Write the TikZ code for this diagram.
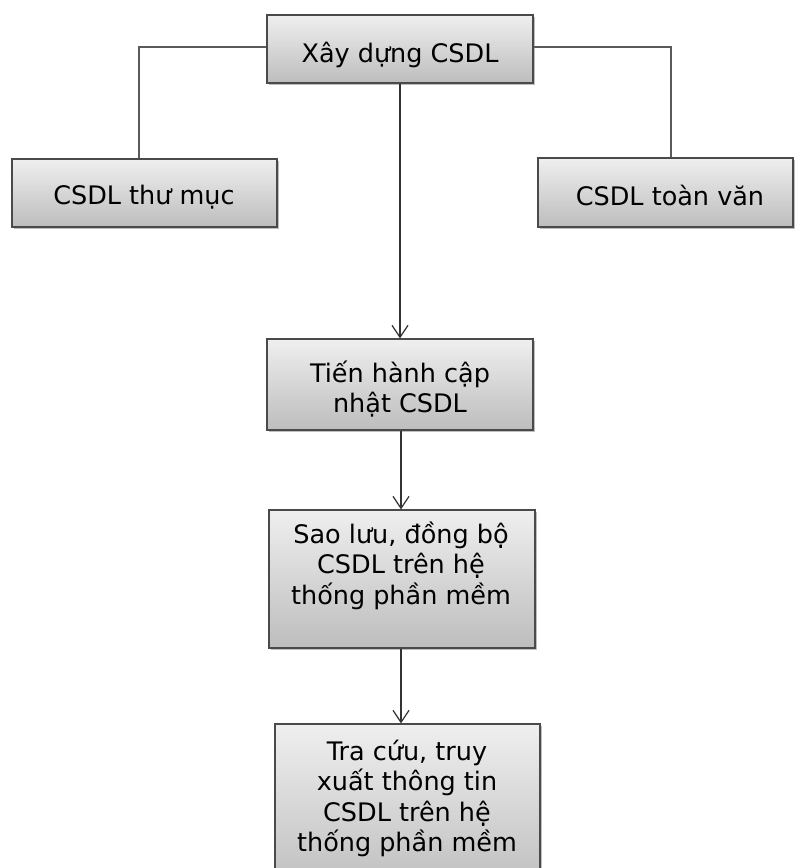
\documentclass[tikz,border=0pt]{standalone}
\usepackage{fontspec}
\setmainfont{DejaVu Sans}
\usetikzlibrary{arrows.meta,shadows}
\definecolor{bord}{HTML}{4A4A4A}
\definecolor{boxtop}{HTML}{EFEFEF}
\definecolor{boxbot}{HTML}{BDBDBD}
\definecolor{connc}{HTML}{5A5A5A}
\definecolor{arrc}{HTML}{333333}
\newcommand{\mlines}[1]{\begin{tabular}[t]{@{}c@{}}#1\end{tabular}}
\begin{document}
\begin{tikzpicture}[x=1pt,y=-1pt,
  box/.style={draw=bord, line width=1.2pt, top color=boxtop, bottom color=boxbot,
    inner sep=0pt, drop shadow={shadow xshift=2pt, shadow yshift=-2pt, fill=black, opacity=0.25}},
  lbl/.style={anchor=base, inner sep=0pt, font=\fontsize{25.5}{30.5}\selectfont},
  conn/.style={draw=connc, line width=1.3pt},
  arr/.style={draw=arrc, line width=1.2pt, -{Straight Barb[length=12pt,width=16pt]}}]
\clip (0,0) rectangle (795,868);
% boxes
\node[box, minimum width=266pt, minimum height=68pt] (top) at (400,49) {};
\node[box, minimum width=265pt, minimum height=68pt] (left) at (144.5,193) {};
\node[box, minimum width=255pt, minimum height=69pt] (right) at (665.5,192.5) {};
\node[box, minimum width=266pt, minimum height=91pt] (mid) at (400,384.5) {};
\node[box, minimum width=266pt, minimum height=138pt] (b3) at (402,579) {};
\node[box, minimum width=265pt, minimum height=170pt] (b4) at (407.5,809) {};
% labels
\node[lbl] (ttop) at (400,62) {Xây dựng CSDL};
\node[lbl] (tleft) at (144,204) {CSDL thư mục};
\node[lbl] (tright) at (670,205) {CSDL toàn văn};
\node[lbl] (tmid) at (400,382) {\mlines{Tiến hành cập\\ nhật CSDL}};
\node[lbl] (tb3) at (401,543) {\mlines{Sao lưu, đồng bộ\\ CSDL trên hệ\\ thống phần mềm}};
\node[lbl] (tb4) at (407,760) {\mlines{Tra cứu, truy\\ xuất thông tin\\ CSDL trên hệ\\ thống phần mềm}};
% connectors
\coordinate (lj) at ([xshift=-5.5pt]left.north);
\coordinate (rj) at ([xshift=5.5pt]right.north);
\draw[conn] ([yshift=2pt]top.west) -| (lj);
\draw[conn] ([yshift=2pt]top.east) -| (rj);
\draw[arr] (top.south) -- (mid.north);
\draw[arr] ([xshift=1pt]mid.south) -- ([xshift=1pt]mid.south |- b3.north);
\draw[arr] ([xshift=1pt]mid.south |- b3.south) -- ([xshift=1pt]mid.south |- b4.north);
\end{tikzpicture}
\end{document}
